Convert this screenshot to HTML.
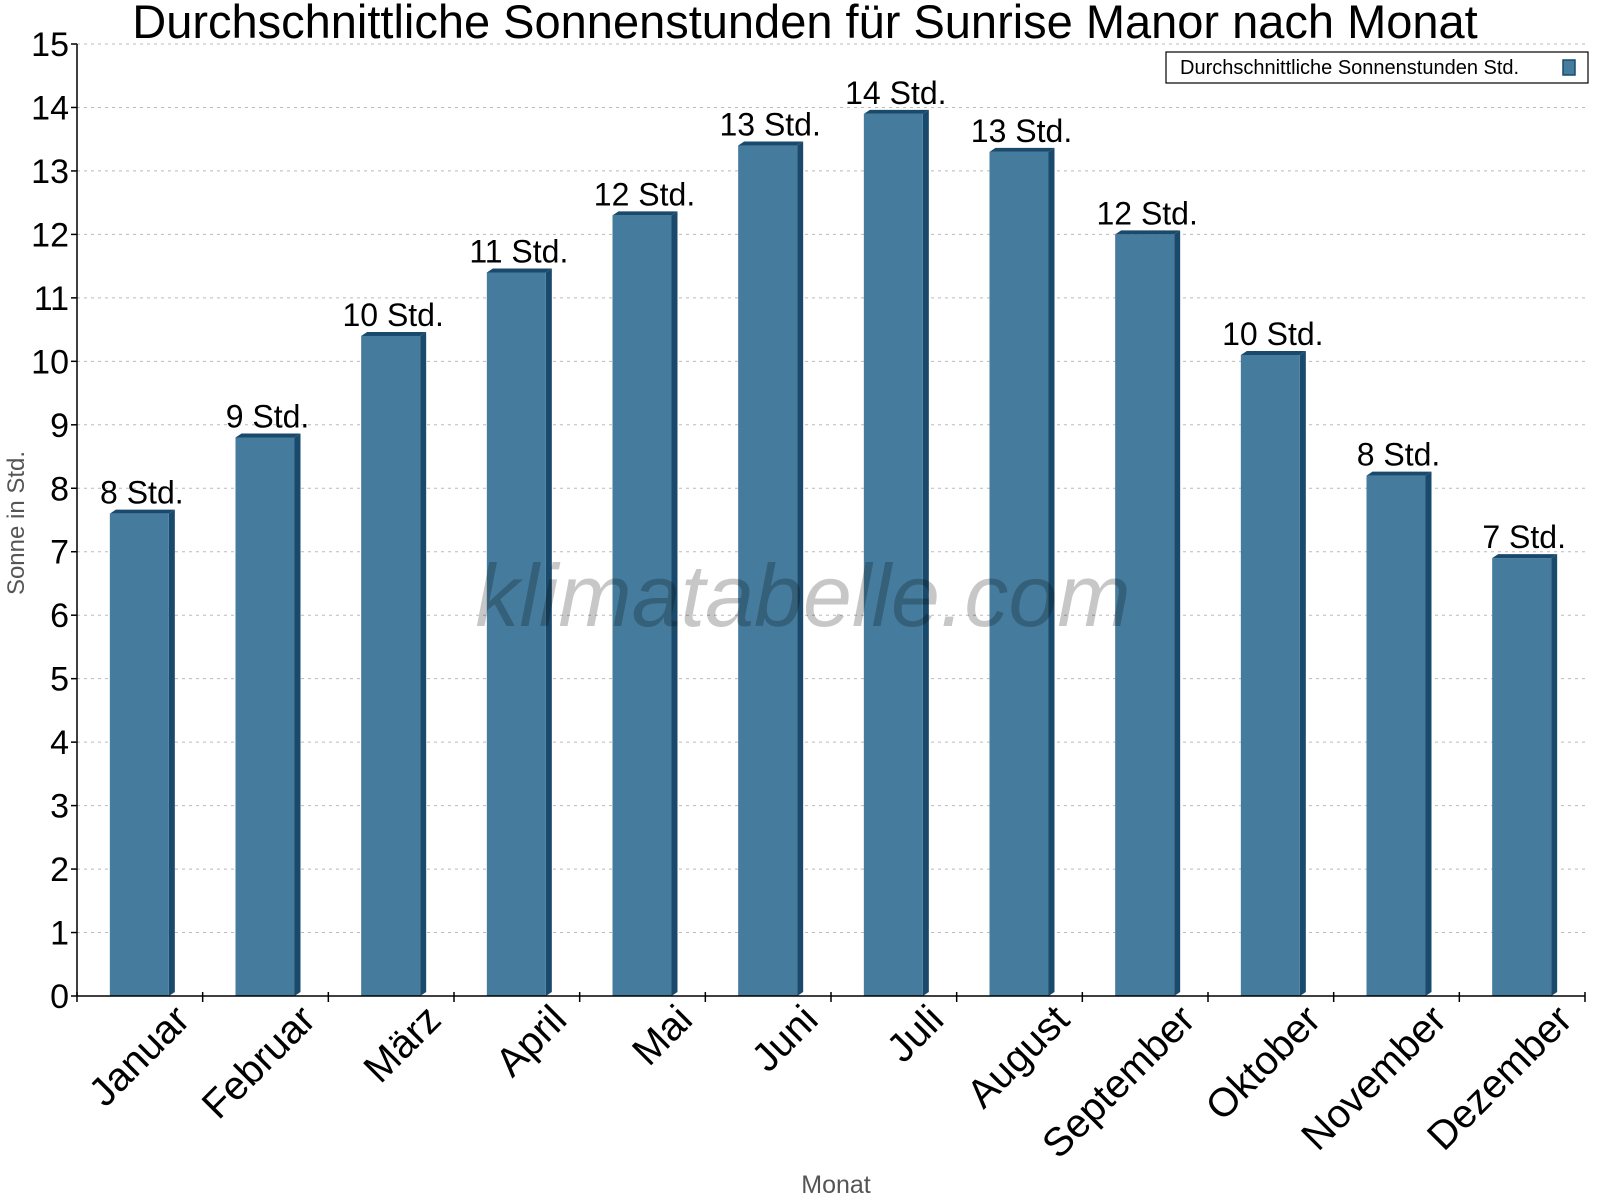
<!DOCTYPE html>
<html><head><meta charset="utf-8"><style>
html,body{margin:0;padding:0;background:#fff}
svg{display:block;font-family:"Liberation Sans",Arial,sans-serif}
</style></head><body>
<svg id="chart" width="1600" height="1200" viewBox="0 0 1600 1200">
<text x="805" y="38" font-size="47" text-anchor="middle" fill="#000">Durchschnittliche Sonnenstunden für Sunrise Manor nach Monat</text>
<g id="grid"></g>
<g id="bars"></g>
<g id="axes"></g>
<text x="803" y="626" font-size="88" font-style="italic" fill="#000" fill-opacity="0.22" text-anchor="middle">klimatabelle.com</text>
<text transform="translate(24,523) rotate(-90)" font-size="24" fill="#555" text-anchor="middle">Sonne in Std.</text>
<text x="836" y="1193" font-size="25" fill="#555" text-anchor="middle">Monat</text>
<g>
<rect x="1166" y="52" width="422" height="31" fill="#fff" stroke="#000" stroke-width="1.2"/>
<text x="1180" y="74" font-size="20" fill="#000">Durchschnittliche Sonnenstunden Std.</text>
<rect x="1563" y="60" width="12" height="15" fill="#457b9d" stroke="#1a4a6b" stroke-width="1.5"/>
</g>
</svg>
<script>
const categories=["Januar","Februar","März","April","Mai","Juni","Juli","August","September","Oktober","November","Dezember"];
const sunHours=[7.6,8.8,10.4,11.4,12.3,13.4,13.9,13.3,12.0,10.1,8.2,6.9];
const valueLabels=["8 Std.","9 Std.","10 Std.","11 Std.","12 Std.","13 Std.","14 Std.","13 Std.","12 Std.","10 Std.","8 Std.","7 Std."];
const yTicks=[0,1,2,3,4,5,6,7,8,9,10,11,12,13,14,15];
const NS="http://www.w3.org/2000/svg";
const X0=77,X1=1585,Y0=996,Y15=44;
const yScale=v=>Y0-(v/15)*(Y0-Y15);
const bw=(X1-X0)/categories.length;
const xCenter=i=>X0+(i+0.5)*bw;
function mk(tag,attrs,parent){const e=document.createElementNS(NS,tag);for(const k in attrs)e.setAttribute(k,attrs[k]);parent.appendChild(e);return e;}
const grid=document.getElementById('grid'),bars=document.getElementById('bars'),axes=document.getElementById('axes');
yTicks.forEach(t=>{
  const y=yScale(t);
  if(t>0){const g=mk('line',{x1:X0,x2:X1,y1:y,y2:y,stroke:'#bbb','stroke-dasharray':'3,4','stroke-width':1},grid);
  
  }
  const tk=mk('line',{x1:X0-6,x2:X0,y1:y,y2:y,stroke:'#000','stroke-width':1.5},axes);
  
  
  const lb=mk('text',{x:X0-8,y:y+12,'font-size':34,'text-anchor':'end',fill:'#000'},axes);
  lb.textContent=t;
  
  
});
mk('line',{x1:X0,x2:X0,y1:Y15,y2:Y0,stroke:'#000','stroke-width':1.5},axes);
mk('line',{x1:X0,x2:X1,y1:Y0,y2:Y0,stroke:'#000','stroke-width':1.5},axes);
for(let i=0;i<=categories.length;i++){
  const x=X0+i*bw;
  const tk=mk('line',{x1:x,x2:x,y1:Y0-4,y2:Y0+6,stroke:'#000','stroke-width':1.5},axes);
  
  
}
sunHours.forEach((v,i)=>{
  const cx=xCenter(i),fw=59,sw=6,left=cx-30,top=yScale(v);
  const g=mk('g',{},bars);
  
  
  mk('polygon',{points:`${left+fw},${top} ${left+fw+sw},${top-4} ${left+fw+sw},${Y0-4} ${left+fw},${Y0}`,fill:'#1a4a6b'},g);
  mk('polygon',{points:`${left},${top} ${left+sw},${top-4} ${left+fw+sw},${top-4} ${left+fw},${top}`,fill:'#1a4a6b'},g);
  mk('rect',{x:left,y:top,width:fw,height:Y0-top,fill:'#457b9d'},g);
  const lb=mk('text',{x:cx+2,y:top-10,'font-size':32,'text-anchor':'middle',fill:'#000'},bars);
  lb.textContent=valueLabels[i];
  
  
  const xl=mk('text',{transform:`translate(${cx+52},${Y0+26}) rotate(-45)`,'font-size':40,'text-anchor':'end',fill:'#000'},axes);
  xl.textContent=categories[i];
  
  
});
</script>
</body></html>
